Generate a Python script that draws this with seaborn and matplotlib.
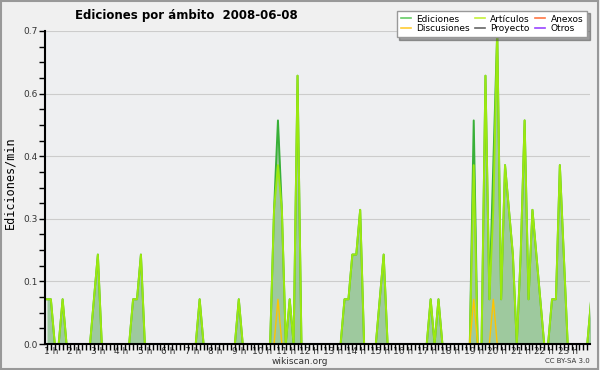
import numpy as np
import pandas as pd
import matplotlib
matplotlib.use("Agg")
import matplotlib.pyplot as plt
import seaborn as sns
from matplotlib.ticker import MultipleLocator, FixedLocator
from matplotlib.patches import Rectangle
from matplotlib.lines import Line2D

# 10-minute bins (minutes since 00:00) that had edits, and rate in edits/min
bin_minutes = [50, 60, 90, 170, 180, 270, 280, 290, 440, 540,
               630, 640, 650, 670, 690, 810, 820, 830, 840, 850,
               900, 910, 1030, 1050, 1140, 1170, 1180, 1190, 1200, 1210,
               1220, 1230, 1240, 1260, 1270, 1280, 1290, 1300, 1310, 1340,
               1350, 1360, 1370, 1440]
ediciones = [0.1, 0.1, 0.1, 0.1, 0.2, 0.1, 0.1, 0.2, 0.1, 0.1,
             0.3, 0.5, 0.3, 0.1, 0.6, 0.1, 0.1, 0.2, 0.2, 0.3,
             0.1, 0.2, 0.1, 0.1, 0.5, 0.6, 0.1, 0.4, 0.7, 0.1,
             0.4, 0.3, 0.2, 0.2, 0.5, 0.1, 0.3, 0.2, 0.1, 0.1,
             0.1, 0.4, 0.2, 0.1]
articulos = [0.1, 0.1, 0.1, 0.1, 0.2, 0.1, 0.1, 0.2, 0.1, 0.1,
             0.3, 0.4, 0.3, 0.1, 0.6, 0.1, 0.1, 0.2, 0.2, 0.3,
             0.1, 0.2, 0.1, 0.1, 0.4, 0.6, 0.1, 0.3, 0.7, 0.1,
             0.4, 0.3, 0.2, 0.2, 0.5, 0.1, 0.3, 0.2, 0.1, 0.1,
             0.1, 0.4, 0.2, 0.1]
discusiones_minutes = [640, 1140, 1190]
discusiones = [0.1, 0.1, 0.1]

hour_ticks = list(range(1, 24))
hour_labels = [f"{h} h" for h in hour_ticks]
y_ticks = [0.0, 0.14, 0.28, 0.42, 0.56, 0.7]

legend_names = ["Ediciones", "Discusiones", "Artículos", "Proyecto", "Anexos", "Otros"]
legend_colors = ["#66cc66", "#ffcc33", "#c4f03a", "#666666", "#ff7744", "#9944ff"]

# full 10-minute grid, empty bins = 0 edits
grid = pd.DataFrame({"minute": np.arange(50, 1441, 10)})
edits = pd.DataFrame({"minute": bin_minutes, "ediciones": ediciones, "articulos": articulos})
disc = pd.DataFrame({"minute": discusiones_minutes, "discusiones": discusiones})
df = grid.merge(edits, on="minute", how="left").merge(disc, on="minute", how="left").fillna(0)
df["hora"] = df["minute"] / 60

fig = plt.figure(figsize=(6, 3.7), dpi=100, facecolor="#f0f0f0")
ax = fig.add_axes([45 / 600, 26 / 370, 545 / 600, 313 / 370])
ax.set_facecolor("#eeeff1")

ax.fill_between(df["hora"], df["ediciones"], color="#9ec99e", lw=0, zorder=2)
sns.lineplot(data=df, x="hora", y="ediciones", ax=ax, color="#38b038", lw=1.4, zorder=3)
sns.lineplot(data=df, x="hora", y="articulos", ax=ax, color="#9be810", lw=1.4, zorder=4)
sns.lineplot(data=df, x="hora", y="discusiones", ax=ax, color="#ffc400", lw=1.0, zorder=5)

ax.set_xlim(0.75, 23.95)
ax.set_ylim(0, 0.7)
ax.set_xticks(hour_ticks)
ax.set_xticklabels(hour_labels)
ax.xaxis.set_minor_locator(MultipleLocator(1 / 6))
ax.yaxis.set_major_locator(FixedLocator(y_ticks))
ax.set_yticklabels([f"{v:.1f}" for v in y_ticks])
ax.yaxis.set_minor_locator(MultipleLocator(0.035))
ax.tick_params(axis="both", which="both", direction="out", length=4, width=1,
               colors="black", labelsize=6.5, labelcolor="#333333")
ax.tick_params(axis="x", which="both", pad=-2)
ax.tick_params(axis="y", which="both", pad=1)
ax.grid(axis="y", color="#cccccc", lw=0.8)
ax.set_axisbelow(True)
ax.set_xlabel("")
ax.set_ylabel("")
for side in ["top", "right"]:
    ax.spines[side].set_visible(False)
for side in ["left", "bottom"]:
    ax.spines[side].set_linewidth(1.5)
    ax.spines[side].set_zorder(6)

fig.text(75 / 600, 1 - 15 / 370, "Ediciones por ámbito  2008-06-08",
         fontweight="bold", fontsize=8.5, va="center", ha="left")
fig.text(10 / 600, 1 - 183 / 370, "Ediciones/min", rotation=90,
         family="DejaVu Sans Mono", fontsize=8.5, va="center", ha="center")
fig.text(300 / 600, 1 - 361 / 370, "wikiscan.org", fontsize=6.5,
         ha="center", va="center", color="#333333")
fig.text(590 / 600, 1 - 361 / 370, "CC BY-SA 3.0", fontsize=5,
         ha="right", va="center", color="#333333")

handles = [Line2D([0], [0], color=c, lw=1.2) for c in legend_colors]
fig.legend(handles, legend_names, ncol=3, loc="upper right",
           bbox_to_anchor=(592 / 600, 1 - 6 / 370), fontsize=6.5,
           frameon=True, fancybox=False, shadow=True, edgecolor="#999999",
           facecolor="white", framealpha=1, handlelength=1.1,
           columnspacing=0.6, labelspacing=0.05, borderpad=0.45, handletextpad=0.6)

fig.add_artist(Rectangle((0.002, 0.003), 0.995, 0.993, transform=fig.transFigure,
                         fill=False, edgecolor="#999999", lw=1.5))

fig.savefig("out.png", dpi=100, facecolor=fig.get_facecolor())
